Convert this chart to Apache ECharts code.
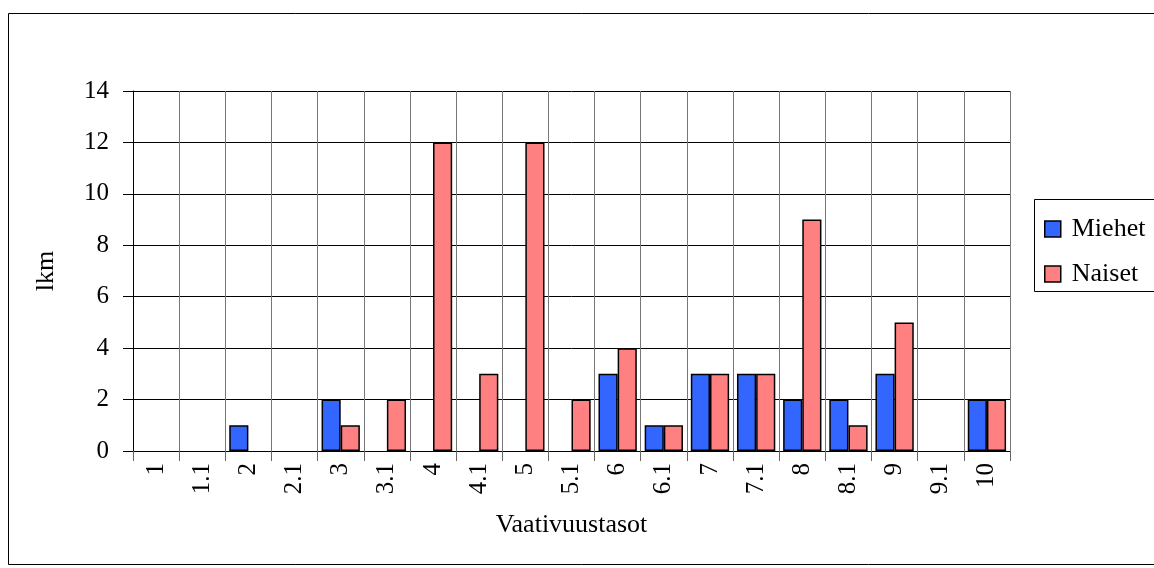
<!DOCTYPE html>
<html style="height: 100%">
<head>
    <meta charset="utf-8">
    <title>Vaativuustasot</title>
    <script src="https://cdn.jsdelivr.net/npm/echarts@6/dist/echarts.min.js"></script>
</head>
<body style="height: 100%; margin: 0; background: #fff">
<div id="main" style="width: 1154px; height: 568px"></div>

<script type="text/javascript">
    var categories = ['1', '1.1', '2', '2.1', '3', '3.1', '4', '4.1', '5', '5.1',
        '6', '6.1', '7', '7.1', '8', '8.1', '9', '9.1', '10'];
    var miehet = [0, 0, 1, 0, 2, 0, 0, 0, 0, 0, 3, 1, 3, 3, 2, 2, 3, 0, 2];
    var naiset = [0, 0, 0, 0, 1, 2, 12, 3, 12, 2, 4, 1, 3, 3, 9, 1, 5, 0, 2];

    var font = '"Liberation Serif", "DejaVu Serif", serif';

    // nollapylväitä ei piirretä
    function hideZero(arr) {
        return arr.map(function (v) { return v === 0 ? '-' : v; });
    }

    var myChart = echarts.init(document.getElementById('main'));

    var option = {
        animation: false,
        textStyle: {fontFamily: font, color: '#000'},
        graphic: [
            {type: 'rect', shape: {x: 8.5, y: 13.5, width: 1160, height: 551},
                style: {fill: null, stroke: '#000', lineWidth: 1}},
            {type: 'rect', shape: {x: 1034.5, y: 199.5, width: 140, height: 92},
                style: {fill: '#fff', stroke: '#000', lineWidth: 1}, z: 0}
        ],
        legend: {
            orient: 'vertical',
            left: 1039,
            top: 211,
            icon: 'rect',
            itemWidth: 16,
            itemHeight: 16,
            itemGap: 19,
            itemStyle: {borderColor: '#000', borderWidth: 1.5},
            textStyle: {fontFamily: font, fontSize: 26, color: '#000', padding: [0, 0, 0, 6]},
            data: ['Miehet', 'Naiset'],
            z: 10
        },
        grid: {left: 133, right: 144, top: 91, bottom: 117},
        xAxis: {
            type: 'category',
            data: categories,
            name: 'Vaativuustasot',
            nameLocation: 'middle',
            nameGap: 61,
            nameTextStyle: {fontFamily: font, fontSize: 26, color: '#000'},
            axisLine: {lineStyle: {color: '#000', width: 1}},
            axisTick: {show: true, length: 10, lineStyle: {color: '#666'}},
            axisLabel: {rotate: 90, fontSize: 25, color: '#000', fontFamily: font, margin: 12},
            splitLine: {show: true, lineStyle: {color: '#777', width: 1}}
        },
        yAxis: {
            type: 'value',
            min: 0,
            max: 14,
            interval: 2,
            name: 'lkm',
            nameLocation: 'middle',
            nameGap: 74,
            nameRotate: 90,
            nameTextStyle: {fontFamily: font, fontSize: 26, color: '#000'},
            axisLine: {show: true, lineStyle: {color: '#000'}},
            axisTick: {show: true, length: 10, lineStyle: {color: '#000'}},
            axisLabel: {fontSize: 25, color: '#000', fontFamily: font, margin: 24},
            splitLine: {show: true, lineStyle: {color: '#000', width: 1}}
        },
        series: [
            {
                name: 'Miehet',
                type: 'bar',
                data: hideZero(miehet),
                barGap: '0%',
                barCategoryGap: '17%',
                itemStyle: {color: '#3366FF', borderColor: '#000', borderWidth: 1.5}
            },
            {
                name: 'Naiset',
                type: 'bar',
                data: hideZero(naiset),
                itemStyle: {color: '#FF8080', borderColor: '#000', borderWidth: 1.5}
            }
        ]
    };
    myChart.setOption(option, true);
</script>
</body>
</html>
